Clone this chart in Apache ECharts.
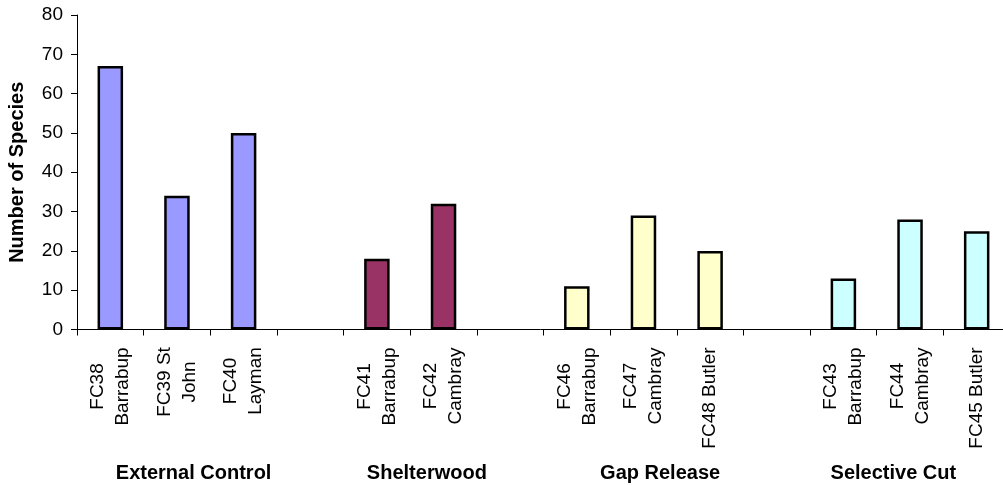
<!DOCTYPE html>
<html>
<head>
<meta charset="utf-8">
<script src="https://cdn.jsdelivr.net/npm/echarts@6/dist/echarts.min.js"></script>
<style>
  html, body { margin: 0; padding: 0; background: #ffffff; }
  #chart { width: 1003px; height: 485px; }
</style>
</head>
<body>
<div id="chart"></div>
<script>
// Sites (blank entries separate the treatment groups)
const categories = [
  'FC38\nBarrabup', 'FC39 St\nJohn', 'FC40\nLayman', '',
  'FC41\nBarrabup', 'FC42\nCambray', '',
  'FC46\nBarrabup', 'FC47\nCambray', 'FC48 Butler', '',
  'FC43\nBarrabup', 'FC44\nCambray', 'FC45 Butler'
];
// Number of species recorded at each site
const speciesCounts = [67, 34, 50, null, 18, 32, null, 11, 29, 20, null, 13, 28, 25];
// Treatment group of each site
const siteGroup = [0, 0, 0, 0, 1, 1, 1, 2, 2, 2, 2, 3, 3, 3];
const treatments = ['External Control', 'Shelterwood', 'Gap Release', 'Selective Cut'];
const yTicks = [0, 10, 20, 30, 40, 50, 60, 70, 80];

const groupColors = ['#9999FF', '#993366', '#FFFFCC', '#CCFFFF'];
const FONT = '"Liberation Sans", Arial, Helvetica, sans-serif';
const FS = 19;
const TITLE_FS = 20;

// Each rotated label block is as long as its longest line; lines are centred inside it.
const ctx = document.createElement('canvas').getContext('2d');
ctx.font = FS + 'px ' + FONT;
const rich = {};
categories.forEach((c, i) => {
  const w = Math.max(...c.split('\n').map(s => ctx.measureText(s).width));
  rich['c' + i] = { width: Math.ceil(w) + 1, align: 'center', fontSize: FS, fontFamily: FONT, color: '#000', lineHeight: 25 };
});

const barData = speciesCounts.map((v, i) => v == null ? '-' : {
  value: v,
  itemStyle: { color: groupColors[siteGroup[i]] }
});

const chart = echarts.init(document.getElementById('chart'), null, { renderer: 'canvas' });
chart.setOption({
  animation: false,
  backgroundColor: '#ffffff',
  grid: { left: 77, top: 15, width: 933, height: 314.5, outerBoundsMode: 'none', containLabel: false },
  xAxis: [
    {
      type: 'category',
      data: categories,
      boundaryGap: true,
      axisLine: { show: true, lineStyle: { color: '#000', width: 1 } },
      axisTick: { show: true, inside: false, length: 6, lineStyle: { color: '#000' }, alignWithLabel: false },
      axisLabel: {
        interval: 0,
        rotate: 90,
        margin: 17,
        formatter: (v, i) => v ? v.split('\n').map(s => '{c' + i + '|' + s + '}').join('\n') : '',
        rich: rich,
        fontSize: FS, fontFamily: FONT, color: '#000'
      },
      splitLine: { show: false }
    },
    {
      type: 'category',
      data: treatments,
      position: 'bottom',
      offset: 126,
      gridIndex: 0,
      axisLine: { show: false },
      axisTick: { show: false },
      axisLabel: { interval: 0, margin: 8, fontSize: TITLE_FS, fontWeight: 'bold', fontFamily: FONT, color: '#000' },
      splitLine: { show: false }
    }
  ],
  yAxis: {
    type: 'value',
    min: yTicks[0],
    max: yTicks[yTicks.length - 1],
    interval: yTicks[1] - yTicks[0],
    name: 'Number of Species',
    nameLocation: 'middle',
    nameRotate: 90,
    nameGap: 50,
    nameTextStyle: { fontSize: TITLE_FS, fontWeight: 'bold', fontFamily: FONT, color: '#000' },
    axisLine: { show: true, lineStyle: { color: '#000', width: 1 } },
    axisTick: { show: true, inside: false, length: 6, lineStyle: { color: '#000' } },
    axisLabel: { margin: 14, fontSize: FS, fontFamily: FONT, color: '#000' },
    splitLine: { show: false }
  },
  series: [{
    type: 'bar',
    xAxisIndex: 0,
    data: barData,
    barWidth: 25.5,
    itemStyle: { borderColor: '#000', borderWidth: 2.5 }
  }]
});
</script>
</body>
</html>
